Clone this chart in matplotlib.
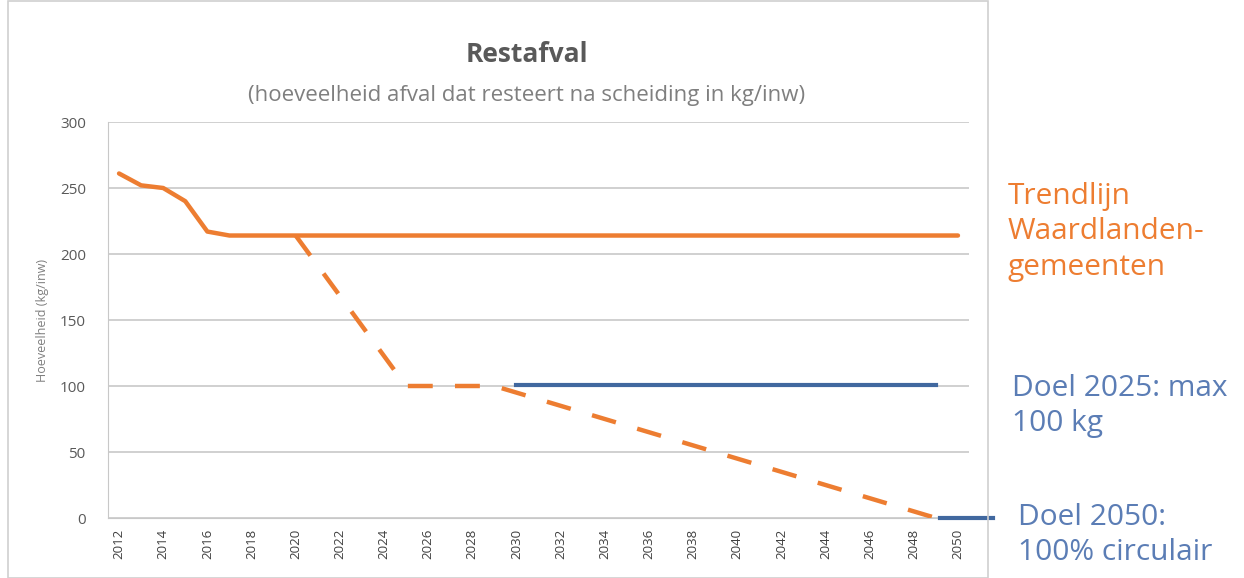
import numpy as np
import matplotlib.pyplot as plt
from matplotlib.lines import Line2D
from matplotlib.patches import Rectangle

# data
years = list(range(2012, 2051))
trend = [261, 252, 250, 240, 217, 214] + [214] * 33
dashed_years = [2020, 2025, 2026, 2027, 2028, 2029, 2049]
dashed_vals = [214, 100, 100, 100, 100, 100, 0]
goal_years = [2030, 2049]
goal_vals = [101, 101]
goal2050_x = [2049.2, 2051.6]
goal2050_y = [0, 0]
yticks = [0, 50, 100, 150, 200, 250, 300]

orange = '#ED7D31'
blue = '#41689F'
txt_blue = '#5B7DB5'
gray = '#595959'

fig = plt.figure(figsize=(12.44, 5.78), dpi=100)
plt.rcParams['font.family'] = ['Open Sans', 'DejaVu Sans']

# chart area border
fig.patches.append(Rectangle((8 / 1244, 0), 980 / 1244, 0.999, transform=fig.transFigure,
                             fill=False, edgecolor='#D0D0D0', lw=1.2))

ax = fig.add_axes([108 / 1244, 60 / 578, 861 / 1244, 396 / 578])


def xi(y):
    return np.array(y) - 2012


ax.plot(xi(years), trend, color=orange, lw=3.2, solid_capstyle='round', zorder=3)
ax.plot(xi(goal_years), goal_vals, color=blue, lw=3.0, zorder=3)
ax.plot(xi(dashed_years), dashed_vals, color=orange, lw=3.2, dashes=(5.6, 5.0), zorder=4)
ax.add_line(Line2D(xi(goal2050_x), goal2050_y, color=blue, lw=3.0, clip_on=False, zorder=5))

ax.set_xlim(-0.5, 38.5)
ax.set_ylim(0, 300)
ax.set_yticks(yticks)
ax.set_yticklabels([str(v) for v in yticks], fontsize=11, color=gray)
ax.set_xticks(xi(years[::2]))
ax.set_xticklabels([str(y) for y in years[::2]], rotation=90, fontsize=9.5, color='#404040')
ax.tick_params(axis='y', length=0, pad=16)
ax.tick_params(axis='x', length=0, pad=8)
ax.grid(axis='y', color='#C8C8C8', lw=1.2)
ax.set_axisbelow(True)
for s in ['top', 'right']:
    ax.spines[s].set_visible(False)
ax.spines['left'].set_color('#C8C8C8')
ax.spines['bottom'].set_color('#C8C8C8')
ax.set_ylabel('Hoeveelheid (kg/inw)', fontsize=9, color='#7F7F7F', labelpad=8)

fig.text(527 / 1244, 1 - 55 / 578, 'Restafval', ha='center', va='center',
         fontsize=19, fontweight='bold', color=gray)
fig.text(527 / 1244, 1 - 95 / 578, '(hoeveelheid afval dat resteert na scheiding in kg/inw)',
         ha='center', va='center', fontsize=16, color='#7F7F7F')

fig.text(1008 / 1244, 1 - 232 / 578, 'Trendlijn\nWaardlanden-\ngemeenten', ha='left', va='center',
         fontsize=21.5, color=orange, linespacing=1.3)
fig.text(1012 / 1244, 1 - 406 / 578, 'Doel 2025: max\n100 kg', ha='left', va='center',
         fontsize=21.5, color=txt_blue, linespacing=1.3)
fig.text(1018 / 1244, 1 - 535 / 578, 'Doel 2050:\n100% circulair', ha='left', va='center',
         fontsize=21.5, color=txt_blue, linespacing=1.3)

fig.savefig('out.png', dpi=100)
